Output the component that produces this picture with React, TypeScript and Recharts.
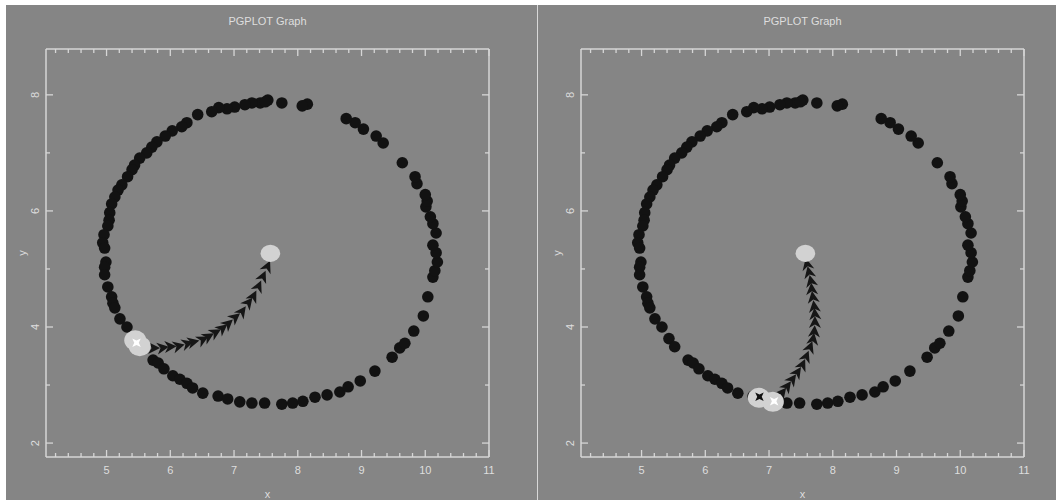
import { ScatterChart, Scatter, XAxis, YAxis } from "recharts";

// axis ranges and ticks (PGPLOT style: labels on majors only)
const X_DOMAIN: [number, number] = [4.05, 11.0];
const Y_DOMAIN: [number, number] = [1.76, 8.79];
const X_TICKS = [
  4.2, 4.4, 4.6, 4.8, 5, 5.2, 5.4, 5.6, 5.8, 6, 6.2, 6.4, 6.6, 6.8, 7, 7.2, 7.4, 7.6, 7.8, 8,
  8.2, 8.4, 8.6, 8.8, 9, 9.2, 9.4, 9.6, 9.8, 10, 10.2, 10.4, 10.6, 10.8, 11,
];
const X_LABELED = [5, 6, 7, 8, 9, 10, 11];
const Y_TICKS = [2, 3, 4, 5, 6, 7, 8];
const Y_LABELED = [2, 4, 6, 8];

// particles on the ring (same in both frames)
const RING = [
  { x: 7.53, y: 7.91 }, { x: 7.41, y: 7.86 }, { x: 7.28, y: 7.86 }, { x: 7.17, y: 7.83 },
  { x: 7.01, y: 7.79 }, { x: 6.89, y: 7.76 }, { x: 6.76, y: 7.78 }, { x: 6.65, y: 7.71 },
  { x: 6.43, y: 7.66 }, { x: 6.26, y: 7.52 }, { x: 6.18, y: 7.45 }, { x: 6.03, y: 7.38 },
  { x: 5.92, y: 7.29 }, { x: 5.79, y: 7.19 }, { x: 5.71, y: 7.1 }, { x: 5.63, y: 7.0 },
  { x: 5.52, y: 6.91 }, { x: 5.44, y: 6.79 }, { x: 5.4, y: 6.71 }, { x: 5.33, y: 6.59 },
  { x: 5.24, y: 6.45 }, { x: 5.18, y: 6.36 }, { x: 5.13, y: 6.24 }, { x: 5.08, y: 6.12 },
  { x: 5.05, y: 5.97 }, { x: 5.04, y: 5.84 }, { x: 5.02, y: 5.74 }, { x: 4.96, y: 5.59 },
  { x: 4.94, y: 5.45 }, { x: 4.97, y: 5.36 }, { x: 4.99, y: 5.12 }, { x: 4.97, y: 5.03 },
  { x: 4.97, y: 4.9 }, { x: 5.02, y: 4.69 }, { x: 5.08, y: 4.52 }, { x: 5.1, y: 4.41 },
  { x: 5.13, y: 4.33 }, { x: 5.21, y: 4.14 }, { x: 5.32, y: 4.0 }, { x: 5.43, y: 3.8 },
  { x: 5.52, y: 3.66 }, { x: 5.73, y: 3.43 }, { x: 5.81, y: 3.38 }, { x: 5.9, y: 3.28 },
  { x: 6.04, y: 3.16 }, { x: 6.15, y: 3.1 }, { x: 6.26, y: 3.03 }, { x: 6.35, y: 2.95 },
  { x: 6.51, y: 2.86 }, { x: 6.75, y: 2.81 }, { x: 6.9, y: 2.76 }, { x: 7.09, y: 2.71 },
  { x: 7.28, y: 2.69 }, { x: 7.48, y: 2.69 }, { x: 7.75, y: 2.67 }, { x: 7.92, y: 2.69 },
  { x: 8.08, y: 2.72 }, { x: 8.27, y: 2.79 }, { x: 8.46, y: 2.83 }, { x: 8.66, y: 2.88 },
  { x: 8.79, y: 2.97 }, { x: 8.98, y: 3.07 }, { x: 9.21, y: 3.24 }, { x: 9.48, y: 3.48 },
  { x: 9.6, y: 3.64 }, { x: 9.68, y: 3.72 }, { x: 9.82, y: 3.93 }, { x: 9.97, y: 4.19 },
  { x: 10.04, y: 4.52 }, { x: 10.12, y: 4.86 }, { x: 10.15, y: 4.97 }, { x: 10.19, y: 5.12 },
  { x: 10.17, y: 5.28 }, { x: 10.12, y: 5.41 }, { x: 10.17, y: 5.62 }, { x: 10.12, y: 5.78 },
  { x: 10.08, y: 5.9 }, { x: 10.01, y: 6.07 }, { x: 10.03, y: 6.17 }, { x: 10.0, y: 6.28 },
  { x: 9.87, y: 6.47 }, { x: 9.84, y: 6.59 }, { x: 9.64, y: 6.83 }, { x: 9.34, y: 7.17 },
  { x: 9.23, y: 7.29 }, { x: 9.03, y: 7.41 }, { x: 8.9, y: 7.52 }, { x: 8.76, y: 7.59 },
  { x: 8.15, y: 7.84 }, { x: 8.07, y: 7.81 }, { x: 7.75, y: 7.86 }, { x: 7.49, y: 7.88 },
];

const CENTER_BLOB = [{ x: 7.57, y: 5.27 }];

// left frame
const LEFT_BLOBS = [{ x: 5.45, y: 3.77 }, { x: 5.52, y: 3.67 }];
const LEFT_WHITE_STARS = [{ x: 5.47, y: 3.73 }];
const LEFT_BLACK_STARS: { x: number; y: number }[] = [];
const LEFT_ARROWS = [
  { x: 5.73, y: 3.64 }, { x: 5.87, y: 3.64 }, { x: 5.99, y: 3.66 }, { x: 6.12, y: 3.67 },
  { x: 6.26, y: 3.71 }, { x: 6.35, y: 3.74 }, { x: 6.5, y: 3.78 }, { x: 6.59, y: 3.83 },
  { x: 6.7, y: 3.9 }, { x: 6.81, y: 3.97 }, { x: 6.9, y: 4.05 }, { x: 7.01, y: 4.16 },
  { x: 7.12, y: 4.26 }, { x: 7.22, y: 4.41 }, { x: 7.3, y: 4.52 }, { x: 7.38, y: 4.69 },
  { x: 7.45, y: 4.86 }, { x: 7.52, y: 5.03 },
];

// right frame
const RIGHT_BLOBS = [{ x: 6.84, y: 2.78 }, { x: 7.06, y: 2.71 }];
const RIGHT_WHITE_STARS = [{ x: 7.08, y: 2.72 }];
const RIGHT_BLACK_STARS = [{ x: 6.85, y: 2.8 }];
const RIGHT_ARROWS = [
  { x: 7.2, y: 2.86 }, { x: 7.28, y: 2.97 }, { x: 7.36, y: 3.09 }, { x: 7.44, y: 3.21 },
  { x: 7.52, y: 3.34 }, { x: 7.58, y: 3.48 }, { x: 7.64, y: 3.64 }, { x: 7.69, y: 3.78 },
  { x: 7.71, y: 3.91 }, { x: 7.72, y: 4.07 }, { x: 7.72, y: 4.21 }, { x: 7.71, y: 4.34 },
  { x: 7.69, y: 4.5 }, { x: 7.67, y: 4.64 }, { x: 7.66, y: 4.78 }, { x: 7.63, y: 4.93 },
  { x: 7.6, y: 5.07 },
];

const BG = "#858585";
const FRAME = "#d6d6d6";
const TEXT = "#dedede";
const FONT = "'Liberation Sans', Arial, sans-serif";

const W = 530;
const H = 495;
// top/right axes are 1px thick (a 0px axis is not drawn), margin takes the rest
const MARGIN = { top: 43, right: 46, bottom: 0, left: 0 };
const X_AXIS_H = 43;
const Y_AXIS_W = 40;
const PLOT_W = W - MARGIN.left - MARGIN.right - 1 - Y_AXIS_W;
const PLOT_H = H - MARGIN.top - 1 - MARGIN.bottom - X_AXIS_H;
const PX_X = PLOT_W / (X_DOMAIN[1] - X_DOMAIN[0]);
const PX_Y = PLOT_H / (Y_DOMAIN[1] - Y_DOMAIN[0]);
const MID_X = MARGIN.left + Y_AXIS_W + PLOT_W / 2;
const MID_Y = MARGIN.top + 1 + PLOT_H / 2;

const near = (list: number[], v: number) => list.some((t) => Math.abs(t - v) < 1e-6);

function BottomTick({ x, y, payload }: any) {
  const major = near(X_LABELED, payload.value);
  return (
    <g>
      <line x1={x} y1={y} x2={x} y2={y - (major ? 7 : 4)} stroke={FRAME} strokeWidth={1.3} />
      {major && (
        <text x={x} y={y + 17} textAnchor="middle" fill={TEXT} fontSize={11} fontFamily={FONT}>
          {payload.value}
        </text>
      )}
    </g>
  );
}

function TopTick({ x, y, payload }: any) {
  const major = near(X_LABELED, payload.value);
  return <line x1={x} y1={y} x2={x} y2={y + (major ? 7 : 4)} stroke={FRAME} strokeWidth={1.3} />;
}

function LeftTick({ x, y, payload }: any) {
  const major = near(Y_LABELED, payload.value);
  const tx = x - 7;
  return (
    <g>
      <line x1={x} y1={y} x2={x + (major ? 7 : 4)} y2={y} stroke={FRAME} strokeWidth={1.3} />
      {major && (
        <text
          x={tx}
          y={y}
          transform={`rotate(-90, ${tx}, ${y})`}
          textAnchor="middle"
          fill={TEXT}
          fontSize={11}
          fontFamily={FONT}
        >
          {payload.value}
        </text>
      )}
    </g>
  );
}

function RightTick({ x, y, payload }: any) {
  const major = near(Y_LABELED, payload.value);
  return <line x1={x} y1={y} x2={x - (major ? 7 : 4)} y2={y} stroke={FRAME} strokeWidth={1.3} />;
}

const Dot = ({ cx, cy }: any) => <circle cx={cx} cy={cy} r={5.8} fill="#121212" />;

const Blob = ({ cx, cy }: any) => <ellipse cx={cx} cy={cy} rx={11} ry={10} fill="#d2d2d2" />;

const CenterBlob = ({ cx, cy }: any) => <ellipse cx={cx} cy={cy} rx={9.8} ry={8.6} fill="#d2d2d2" />;

const Nothing = () => <g />;

const starPath = "M0,-6 L1.6,-1.6 L6,0 L1.6,1.6 L0,6 L-1.6,1.6 L-6,0 L-1.6,-1.6 Z";

const Star = (color: string) => ({ cx, cy }: any) => (
  <path d={starPath} transform={`translate(${cx},${cy}) rotate(45)`} fill={color} />
);

function makeChevron(list: { x: number; y: number }[]) {
  return (props: any) => {
    const { cx, cy, payload } = props;
    let i = typeof props.index === "number" ? props.index : -1;
    if (i < 0) i = list.findIndex((p) => p.x === payload?.x && p.y === payload?.y);
    const a = list[Math.max(0, Math.min(i, list.length - 2))];
    const b = list[Math.max(1, Math.min(i + 1, list.length - 1))];
    const ang = (Math.atan2(-(b.y - a.y) * PX_Y, (b.x - a.x) * PX_X) * 180) / Math.PI;
    return (
      <path
        d="M7,0 L-5,-6 L-1.5,0 L-5,6 Z"
        transform={`translate(${cx},${cy}) rotate(${ang})`}
        fill="#161616"
      />
    );
  };
}

interface PanelProps {
  arrows: { x: number; y: number }[];
  blobs: { x: number; y: number }[];
  whiteStars: { x: number; y: number }[];
  blackStars: { x: number; y: number }[];
}

function Panel({ arrows, blobs, whiteStars, blackStars }: PanelProps) {
  return (
    <ScatterChart width={W} height={H} margin={MARGIN}>
      <XAxis
        type="number"
        dataKey="x"
        domain={X_DOMAIN}
        ticks={X_TICKS}
        interval={0}
        allowDataOverflow
        height={X_AXIS_H}
        tickSize={0}
        tickMargin={0}
        tickLine={false}
        axisLine={{ stroke: FRAME, strokeWidth: 1.5 }}
        tick={(p: any) => <BottomTick {...p} />}
      />
      <XAxis
        xAxisId="top"
        orientation="top"
        type="number"
        dataKey="x"
        domain={X_DOMAIN}
        ticks={X_TICKS}
        interval={0}
        allowDataOverflow
        height={1}
        tickSize={0}
        tickMargin={0}
        tickLine={false}
        axisLine={{ stroke: FRAME, strokeWidth: 1.5 }}
        tick={(p: any) => <TopTick {...p} />}
      />
      <YAxis
        type="number"
        dataKey="y"
        domain={Y_DOMAIN}
        ticks={Y_TICKS}
        interval={0}
        allowDataOverflow
        width={Y_AXIS_W}
        tickSize={0}
        tickMargin={0}
        tickLine={false}
        axisLine={{ stroke: FRAME, strokeWidth: 1.5 }}
        tick={(p: any) => <LeftTick {...p} />}
      />
      <YAxis
        yAxisId="right"
        orientation="right"
        type="number"
        dataKey="y"
        domain={Y_DOMAIN}
        ticks={Y_TICKS}
        interval={0}
        allowDataOverflow
        width={1}
        tickSize={0}
        tickMargin={0}
        tickLine={false}
        axisLine={{ stroke: FRAME, strokeWidth: 1.5 }}
        tick={(p: any) => <RightTick {...p} />}
      />
      {/* binds the top and right frame axes so they are drawn */}
      <Scatter data={CENTER_BLOB} xAxisId="top" yAxisId="right" shape={Nothing} isAnimationActive={false} />
      <Scatter data={RING} shape={Dot} isAnimationActive={false} />
      <Scatter data={arrows} shape={makeChevron(arrows)} isAnimationActive={false} />
      <Scatter data={CENTER_BLOB} shape={CenterBlob} isAnimationActive={false} />
      <Scatter data={blobs} shape={Blob} isAnimationActive={false} />
      <Scatter data={whiteStars} shape={Star("#ffffff")} isAnimationActive={false} />
      <Scatter data={blackStars} shape={Star("#101010")} isAnimationActive={false} />
      <text x={MID_X} y={20} textAnchor="middle" fill={TEXT} fontSize={11} fontFamily={FONT}>
        PGPLOT Graph
      </text>
      <text x={MID_X} y={H - 2} textAnchor="middle" fill={TEXT} fontSize={11} fontFamily={FONT}>
        x
      </text>
      <text
        x={20}
        y={MID_Y}
        transform={`rotate(-90, 20, ${MID_Y})`}
        textAnchor="middle"
        fill={TEXT}
        fontSize={11}
        fontFamily={FONT}
      >
        y
      </text>
    </ScatterChart>
  );
}

export default function App() {
  return (
    <div
      style={{
        position: "fixed",
        left: 0,
        top: 0,
        width: 1056,
        height: 500,
        background: "#ffffff",
        overflow: "hidden",
      }}
    >
      <div style={{ position: "absolute", left: 6, top: 5, width: 1050, height: 495, background: BG }} />
      <div style={{ position: "absolute", left: 537, top: 5, width: 1, height: 495, background: "#d8d8d8" }} />
      <div style={{ position: "absolute", left: 6, top: 5 }}>
        <Panel arrows={LEFT_ARROWS} blobs={LEFT_BLOBS} whiteStars={LEFT_WHITE_STARS} blackStars={LEFT_BLACK_STARS} />
      </div>
      <div style={{ position: "absolute", left: 541, top: 5 }}>
        <Panel arrows={RIGHT_ARROWS} blobs={RIGHT_BLOBS} whiteStars={RIGHT_WHITE_STARS} blackStars={RIGHT_BLACK_STARS} />
      </div>
    </div>
  );
}
